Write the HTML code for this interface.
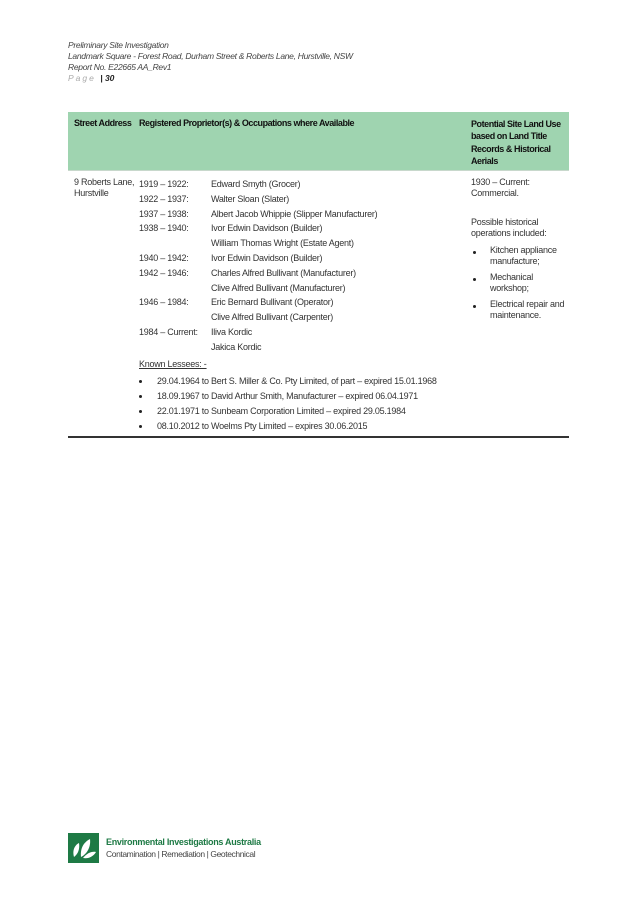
<!DOCTYPE html>
<html><head><meta charset="utf-8"><style>
body{margin:0;width:637px;height:901px;background:#fff;position:relative;font-family:"Liberation Sans",sans-serif;color:#333;overflow:hidden}
.t{position:absolute;font-size:9px;letter-spacing:-0.25px;white-space:nowrap;line-height:11px}
.h{position:absolute;font-size:8.5px;font-style:italic;color:#444;white-space:nowrap;letter-spacing:-0.3px}
.b{font-weight:bold;color:#111;letter-spacing:-0.45px}
.d{position:absolute;width:3px;height:3px;border-radius:50%;background:#222}
</style></head><body>
<div class="h" style="left:68px;top:40px">Preliminary Site Investigation</div>
<div class="h" style="left:68px;top:51px">Landmark Square - Forest Road, Durham Street &amp; Roberts Lane, Hurstville, NSW</div>
<div class="h" style="left:68px;top:62px">Report No. E22665 AA_Rev1</div>
<div class="h" style="left:68px;top:73px;color:#aaa;letter-spacing:2px">Page <span style="color:#222;font-weight:bold;letter-spacing:0">| 30</span></div>

<div style="position:absolute;left:68px;top:112px;width:501px;height:58px;background:#9fd4b0;border-bottom:1px solid #c8d8cc"></div>
<div class="t b" style="left:74px;top:118px">Street Address</div>
<div class="t b" style="left:139px;top:118px">Registered Proprietor(s) &amp; Occupations where Available</div>
<div class="t b" style="left:471px;top:118px;line-height:12.3px">Potential Site Land Use<br>based on Land Title<br>Records &amp; Historical<br>Aerials</div>

<div class="t" style="left:74px;top:177px">9 Roberts Lane,<br>Hurstville</div>
<div class="t" style="left:139px;top:177px;line-height:14.8px">1919 – 1922:<br>1922 – 1937:<br>1937 – 1938:<br>1938 – 1940:<br><br>1940 – 1942:<br>1942 – 1946:<br><br>1946 – 1984:<br><br>1984 – Current:</div>
<div class="t" style="left:211px;top:177px;line-height:14.8px">Edward Smyth (Grocer)<br>Walter Sloan (Slater)<br>Albert Jacob Whippie (Slipper Manufacturer)<br>Ivor Edwin Davidson (Builder)<br>William Thomas Wright (Estate Agent)<br>Ivor Edwin Davidson (Builder)<br>Charles Alfred Bullivant (Manufacturer)<br>Clive Alfred Bullivant (Manufacturer)<br>Eric Bernard Bullivant (Operator)<br>Clive Alfred Bullivant (Carpenter)<br>Iliva Kordic<br>Jakica Kordic</div>
<div class="t" style="left:139px;top:359px;text-decoration:underline">Known Lessees: -</div>
<div class="d" style="left:139px;top:380px"></div><div class="t" style="left:157px;top:376px">29.04.1964 to Bert S. Miller &amp; Co. Pty Limited, of part – expired 15.01.1968</div>
<div class="d" style="left:139px;top:395px"></div><div class="t" style="left:157px;top:391px">18.09.1967 to David Arthur Smith, Manufacturer – expired 06.04.1971</div>
<div class="d" style="left:139px;top:410px"></div><div class="t" style="left:157px;top:406px">22.01.1971 to Sunbeam Corporation Limited – expired 29.05.1984</div>
<div class="d" style="left:139px;top:425px"></div><div class="t" style="left:157px;top:421px">08.10.2012 to Woelms Pty Limited – expires 30.06.2015</div>

<div class="t" style="left:471px;top:177px">1930 – Current:<br>Commercial.</div>
<div class="t" style="left:471px;top:217px">Possible historical<br>operations included:</div>
<div class="d" style="left:473px;top:251px"></div><div class="t" style="left:490px;top:245px">Kitchen appliance<br>manufacture;</div>
<div class="d" style="left:473px;top:278px"></div><div class="t" style="left:490px;top:272px">Mechanical<br>workshop;</div>
<div class="d" style="left:473px;top:305px"></div><div class="t" style="left:490px;top:299px">Electrical repair and<br>maintenance.</div>

<div style="position:absolute;left:68px;top:436px;width:501px;height:1.5px;background:#333"></div>

<div style="position:absolute;left:68px;top:833px;width:31px;height:30px;background:#1e7a45">
<svg width="31" height="30" viewBox="0 0 31 30"><path d="M6 24 C4 17 7 12 11 10 C12 16 10 21 6 24Z" fill="#fff"/><path d="M13 24 C12 15 16 9 22 6 C23 14 19 21 13 24Z" fill="#fff"/><path d="M15 25 C19 20 24 18 28 19 C25 24 20 26 15 25Z" fill="#fff"/></svg></div>
<div style="position:absolute;left:106px;top:837px;font-size:9px;font-weight:bold;color:#1e7a45;white-space:nowrap;letter-spacing:-0.3px">Environmental Investigations Australia</div>
<div style="position:absolute;left:106px;top:849px;font-size:8.5px;color:#444;white-space:nowrap;letter-spacing:-0.4px">Contamination | Remediation | Geotechnical</div>
</body></html>
